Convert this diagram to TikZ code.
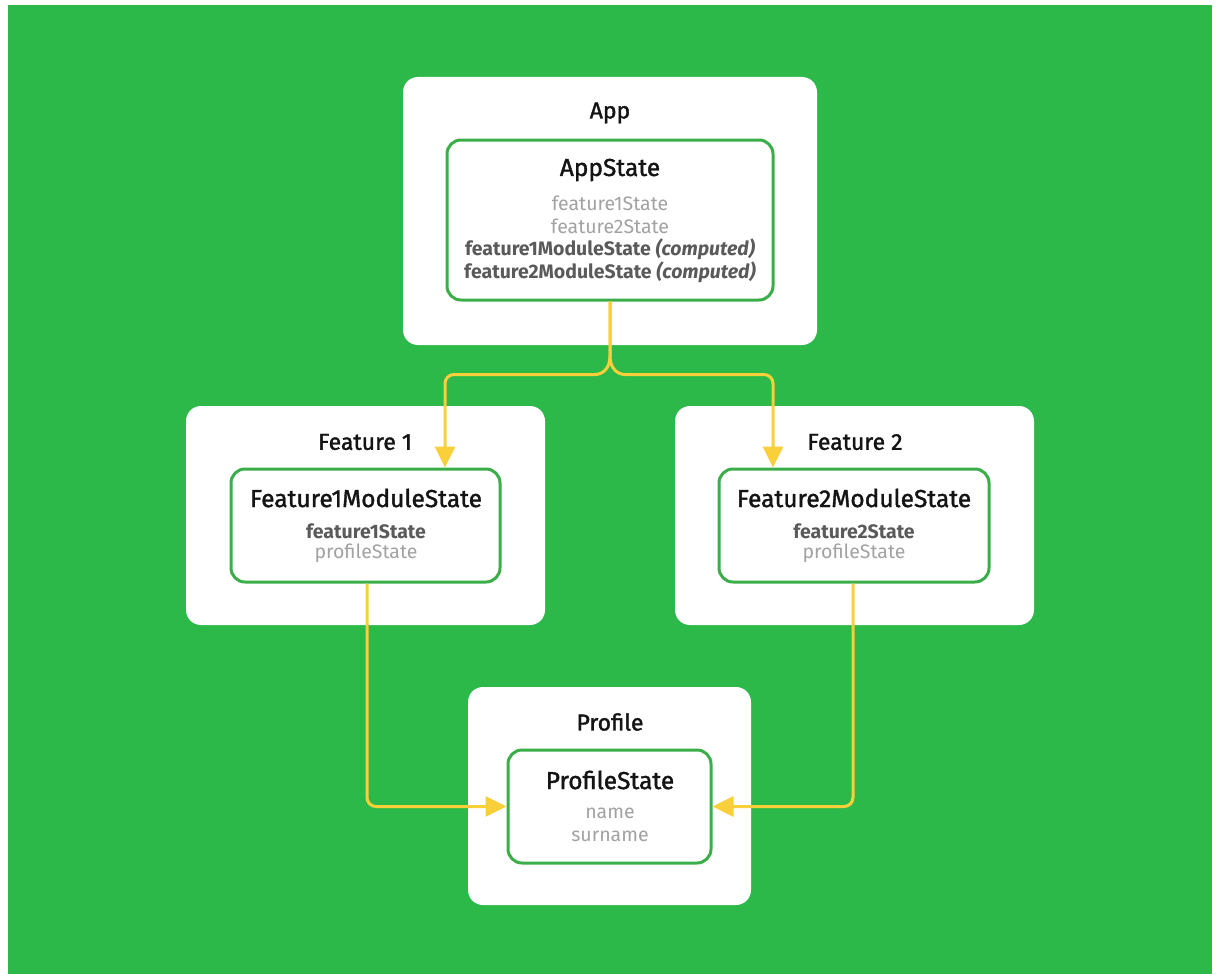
\documentclass[tikz,border=0pt]{standalone}
\usepackage{fontspec}
\setmainfont{Fira Sans}
\newfontfamily\headfont[FakeBold=1.5]{Fira Sans}
\usetikzlibrary{arrows.meta}
\definecolor{bggreen}{HTML}{2CB94A}
\definecolor{boxgreen}{HTML}{3BAE4A}
\definecolor{flow}{HTML}{F9CF3A}
\definecolor{ttl}{HTML}{141414}
\definecolor{fieldlight}{HTML}{A2A2A2}
\definecolor{fieldbold}{HTML}{5A5A5A}
\tikzset{
  module/.style={fill=white, draw=none, rounded corners=15pt, inner sep=0pt},
  statebox/.style={fill=white, draw=boxgreen, line width=3pt, rounded corners=14pt, inner sep=0pt},
  modtitle/.style={text=ttl, font=\headfont\fontsize{23}{27}\selectfont, inner sep=0pt},
  statetitle/.style={text=ttl, font=\headfont\fontsize{24.5}{28}\selectfont, inner sep=0pt},
  field/.style={text=fieldlight, font=\fontsize{19.5}{23}\selectfont, inner sep=0pt},
  keyfield/.style={text=fieldbold, font=\fontsize{19.5}{23}\selectfont\bfseries, inner sep=0pt},
  link/.style={draw=flow, line width=3pt, rounded corners=9pt,
    -{Triangle[length=21pt,width=20pt]}},
}
\begin{document}
\begin{tikzpicture}[x=1pt,y=-1pt]
  \useasboundingbox (0,0) rectangle (1221,974);
  \fill[white] (0,0) rectangle (1221,974);
  \fill[bggreen] (8,5) rectangle (1212,974);

  % module containers
  \node[module, minimum width=414pt, minimum height=268pt] (app) at (610,211) {};
  \node[module, minimum width=359pt, minimum height=219pt] (f1) at (365.5,515.5) {};
  \node[module, minimum width=359pt, minimum height=219pt] (f2) at (854.5,515.5) {};
  \node[module, minimum width=283pt, minimum height=218pt] (prof) at (609.5,796) {};

  % state boxes
  \node[statebox, minimum width=326pt, minimum height=160pt] (appin) at (610,220) {};
  \node[statebox, minimum width=269pt, minimum height=113pt] (f1in) at (365.5,525.5) {};
  \node[statebox, minimum width=270pt, minimum height=113pt] (f2in) at (854,525.5) {};
  \node[statebox, minimum width=203pt, minimum height=113pt] (profin) at (609.5,806.5) {};

  % App
  \node[modtitle] (appt) at (610,113) {App};
  \node[statetitle] (appst) at (610,170) {AppState};
  \node[field] (a1) at (610,203) {feature1State};
  \node[field] (a2) at (610,226) {feature2State};
  \node[keyfield] (a3) at (610,249) {feature1ModuleState \textit{(computed)}};
  \node[keyfield] (a4) at (610,272) {feature2ModuleState \textit{(computed)}};

  % Feature 1
  \node[modtitle] (f1t) at (365,442) {Feature 1};
  \node[statetitle] (f1st) at (366,498) {Feature1ModuleState};
  \node[keyfield] (f1a) at (366,531) {feature1State};
  \node[field] (f1b) at (366,553) {profileState};

  % Feature 2
  \node[modtitle] (f2t) at (855,442) {Feature 2};
  \node[statetitle] (f2st) at (854,498) {Feature2ModuleState};
  \node[keyfield] (f2a) at (854,531) {feature2State};
  \node[field] (f2b) at (854,553) {profileState};

  % Profile
  \node[modtitle] (pt) at (610,722) {Profile};
  \node[statetitle] (pst) at (610,780) {ProfileState};
  \node[field] (pa) at (610,813) {name};
  \node[field] (pb) at (610,836) {surname};

  % arrow end points on the state boxes
  \coordinate (f1top) at ([xshift=79.5pt]f1in.north);
  \coordinate (f2top) at ([xshift=-81pt]f2in.north);
  \coordinate (f1bot) at ([xshift=1.5pt]f1in.south);
  \coordinate (f2bot) at ([xshift=-1pt]f2in.south);

  % AppState splits into both feature modules
  \draw[link] (appin.south) -- (610,347) .. controls (610,369) and (602,374.5) .. (586,374.5)
    -- (f1top |- 0,374.5) -- (f1top);
  \draw[link] (appin.south) -- (610,347) .. controls (610,369) and (618,374.5) .. (634,374.5)
    -- (f2top |- 0,374.5) -- (f2top);

  % both feature modules read the profile state
  \draw[link] (f1bot) -- (f1bot |- profin.west) -- (profin.west);
  \draw[link] (f2bot) -- (f2bot |- profin.east) -- (profin.east);
\end{tikzpicture}
\end{document}
